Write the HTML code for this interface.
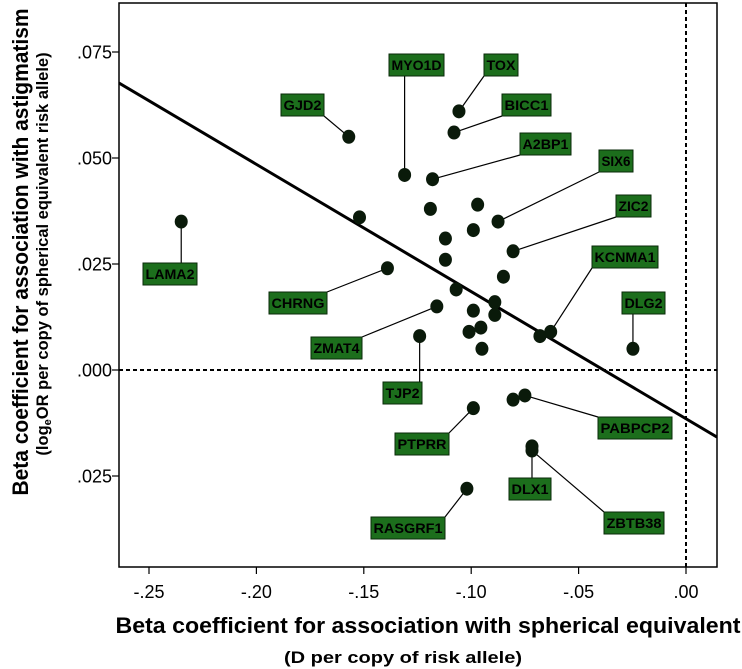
<!DOCTYPE html>
<html><head><meta charset="utf-8"><style>
body{margin:0;background:#fff;}
svg{display:block;font-family:"Liberation Sans",Arial,sans-serif;}
</style></head><body>
<svg id="chart" width="742" height="669"></svg>
<script>
const xs=[-.157,-.1057,-.108,-.131,-.118,-.119,-.097,-.152,-.0875,-.099,-.112,-.235,-.0805,-.112,-.139,-.085,-.107,-.089,-.116,-.099,-.089,-.0955,-.101,-.063,-.068,-.124,-.095,-.0247,-.075,-.0805,-.099,-.0717,-.0717,-.102];
const ys=[.055,.061,.056,.046,.045,.038,.039,.036,.035,.033,.031,.035,.028,.026,.024,.022,.019,.016,.015,.014,.013,.010,.009,.009,.008,.008,.005,.005,-.006,-.007,-.009,-.018,-.019,-.028];
const genes=["GJD2","TOX","BICC1","MYO1D","A2BP1",null,null,null,"SIX6",null,null,"LAMA2","ZIC2",null,"CHRNG",null,null,null,"ZMAT4",null,null,null,null,"KCNMA1",null,"TJP2",null,"DLG2","PABPCP2",null,"PTPRR","DLX1","ZBTB38","RASGRF1"];
const xTicks=[-.25,-.20,-.15,-.10,-.05,0];
const xTickLabels=["-.25","-.20","-.15","-.10","-.05",".00"];
const yTicks=[.075,.050,.025,0,-.025];
const yTickLabels=[".075",".050",".025",".000",".025"];
const fitIntercept=-0.0115, fitSlope=-0.300;
// label box layout (pixels): [left, top, width, height]
const boxes={GJD2:[281,94,43,22],TOX:[484,54,34,22],BICC1:[502,94,49,22],MYO1D:[389,54,55,22],A2BP1:[520,133,51,22],SIX6:[599,150,34,22],LAMA2:[143,263,54,22],ZIC2:[616,195,35,22],CHRNG:[269,292,58,22],ZMAT4:[311,337,51,22],KCNMA1:[592,246,66,22],TJP2:[383,382,39,22],DLG2:[622,292,43,22],PABPCP2:[598,417,74,22],PTPRR:[395,433,54,22],DLX1:[509,478,42,22],ZBTB38:[604,512,60,22],RASGRF1:[371,517,74,22]};
const L=119,R=717,T=3,B=567;
const X=v=>686+v*2148, Y=v=>370-v*4240;
const NS="http://www.w3.org/2000/svg";
const svg=document.getElementById('chart');
function mk(t,a,p){const e=document.createElementNS(NS,t);for(const k in a)e.setAttribute(k,a[k]);(p||svg).appendChild(e);return e;}
const frame=mk('rect',{x:L,y:T,width:R-L,height:B-T,fill:'none',stroke:'#000','stroke-width':1.5});


const clip=mk('clipPath',{id:'c'});mk('rect',{x:L,y:T,width:R-L,height:B-T},clip);
const vz=mk('line',{x1:X(0),x2:X(0),y1:T,y2:B,stroke:'#000','stroke-width':2,'stroke-dasharray':'4,3'});


const hz=mk('line',{x1:L,x2:R,y1:Y(0),y2:Y(0),stroke:'#000','stroke-width':2,'stroke-dasharray':'4,3'});


const x0=(L-686)/2148,x1=(R-686)/2148;
const fit=mk('line',{x1:X(x0),y1:Y(fitIntercept+fitSlope*x0),x2:X(x1),y2:Y(fitIntercept+fitSlope*x1),stroke:'#000','stroke-width':3,'clip-path':'url(#c)'});


xTicks.forEach((v,i)=>{
 const t=mk('line',{x1:X(v),x2:X(v),y1:B,y2:B+7,stroke:'#000','stroke-width':1.2});
 
 
 const l=mk('text',{x:X(v),y:598,'text-anchor':'middle','font-size':18});l.textContent=xTickLabels[i];
 
 
});
yTicks.forEach((v,i)=>{
 const t=mk('line',{x1:L-7,x2:L,y1:Y(v),y2:Y(v),stroke:'#000','stroke-width':1.2});
 
 
 const l=mk('text',{x:112,y:Y(v)+6.5,'text-anchor':'end','font-size':18});l.textContent=yTickLabels[i];
 
 
});
genes.forEach((g,i)=>{
 if(!g||!boxes[g])return;
 const [bx,by,bw,bh]=boxes[g];const px=X(xs[i]),py=Y(ys[i]);
 const ax=Math.min(Math.max(px,bx),bx+bw),ay=Math.min(Math.max(py,by),by+bh);
 const ln=mk('line',{x1:ax,y1:ay,x2:px,y2:py,stroke:'#000','stroke-width':1.2});
 
 
});
xs.forEach((v,i)=>{
 const c=mk('ellipse',{cx:X(v),cy:Y(ys[i]),rx:6.5,ry:7,fill:'#0a1a0a'});
 
 
});
genes.forEach((g,i)=>{
 if(!g||!boxes[g])return;
 const [bx,by,bw,bh]=boxes[g];
 const gr=mk('g',{});
 
 
 mk('rect',{x:bx,y:by,width:bw,height:bh,fill:'#1c6e1c',stroke:'#0a2a0a','stroke-width':1},gr);
 const t=mk('text',{x:bx+bw/2,y:by+bh/2+5,'text-anchor':'middle','font-size':14,'font-weight':'bold',fill:'#000',textLength:bw-5,lengthAdjust:'spacingAndGlyphs'},gr);t.textContent=g;
});
const xt=mk('text',{x:428,y:633,'text-anchor':'middle','font-size':22,'font-weight':'bold',textLength:625,lengthAdjust:'spacingAndGlyphs'});xt.textContent='Beta coefficient for association with spherical equivalent';


const xs2=mk('text',{x:403,y:663,'text-anchor':'middle','font-size':17,'font-weight':'bold',textLength:238,lengthAdjust:'spacingAndGlyphs'});xs2.textContent='(D per copy of risk allele)';


const yt=mk('text',{x:0,y:0,'text-anchor':'middle','font-size':22,'font-weight':'bold',textLength:487,lengthAdjust:'spacingAndGlyphs',transform:'translate(28,252) rotate(-90)'});yt.textContent='Beta coefficient for association with astigmatism';


const ys2=mk('text',{x:0,y:0,'text-anchor':'middle','font-size':16.5,'font-weight':'bold',transform:'translate(48,254) rotate(-90)'});
ys2.innerHTML='(log<tspan font-size="11" dy="3">e</tspan><tspan dy="-3">OR per copy of spherical equivalent risk allele)</tspan>';


</script>
</body></html>
